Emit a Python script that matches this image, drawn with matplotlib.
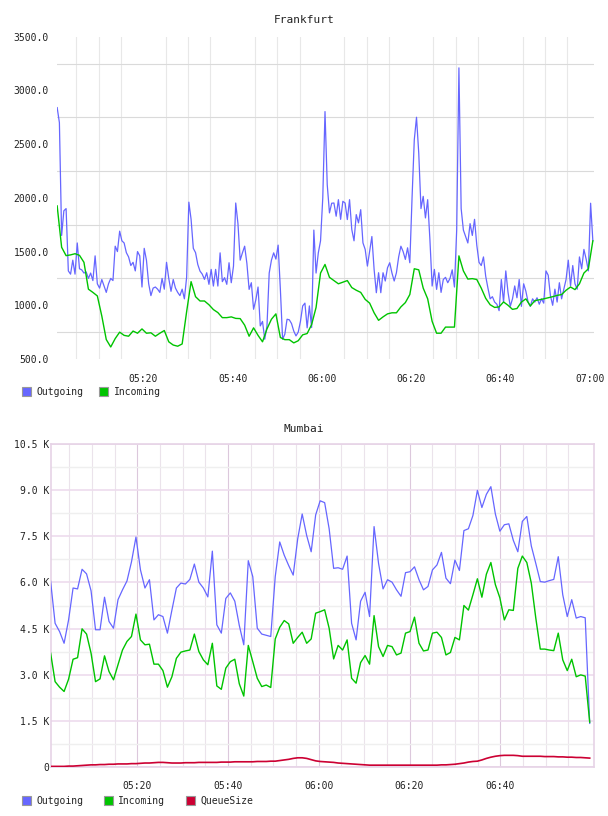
import matplotlib
matplotlib.use("Agg")
import matplotlib.pyplot as plt
import numpy as np
from matplotlib.patches import Patch
from matplotlib.ticker import FixedLocator

plt.rcParams['font.family'] = ['DejaVu Sans Mono']

# minutes after 05:00
tick_minutes = [20, 40, 60, 80, 100, 120]
tick_labels = ['05:20', '05:40', '06:00', '06:20', '06:40', '07:00']

# ---- Frankfurt ----
fra_out_start = 0.7   # minute of first sample, 30 s step
fra_outgoing = [
    2840, 2700, 1650, 1880, 1900, 1320, 1290, 1420, 1290, 1580,
    1340, 1330, 1300, 1310, 1250, 1300, 1230, 1460, 1200, 1160,
    1240, 1180, 1120, 1200, 1250, 1230, 1550, 1500, 1690, 1600,
    1580, 1490, 1450, 1370, 1400, 1320, 1500, 1460, 1170, 1530,
    1420, 1200, 1090, 1160, 1170, 1150, 1120, 1250, 1150, 1400,
    1250, 1130, 1240, 1160, 1120, 1090, 1150, 1060, 1260, 1960,
    1800, 1530, 1490, 1380,
    1318, 1290, 1241, 1303, 1195, 1334, 1179, 1334, 1179, 1488,
    1220, 1257, 1195, 1396, 1210, 1365, 1952, 1760, 1420, 1488,
    1550, 1390, 1148, 1210, 963, 1050, 1170, 808, 850, 684,
    808, 1300, 1420, 1488, 1430, 1560, 1150, 684, 731, 870,
    865, 830, 760, 715, 750, 850, 994, 1020, 790, 994,
    793, 1700, 1300, 1488, 1600, 2000, 2803, 2122, 1860, 1950,
    1952, 1829, 1983, 1800, 1968, 1952, 1798, 1983, 1705, 1600,
    1844, 1767, 1890, 1581, 1520, 1365, 1500, 1640, 1334, 1117,
    1303, 1117, 1303, 1226, 1349, 1396, 1300, 1226, 1303, 1450,
    1550, 1500, 1427, 1535, 1396, 2000, 2540, 2750, 2416, 1900,
    2014, 1813, 1983, 1612, 1179, 1334, 1148, 1303,
    1120, 1240, 1260, 1210, 1250, 1330, 1170, 1700,
    3210, 1900, 1700, 1640, 1580, 1760, 1650, 1800, 1560, 1400,
    1370, 1450, 1270, 1160, 1060, 1080, 1030, 1010, 950, 1240,
    1030, 1320, 1120, 990, 1060, 1180, 1070, 1240, 990, 1200,
    1130, 1030, 990, 1060, 1030, 1070, 1010, 1060, 1020, 1320,
    1280, 1090, 1000, 1150, 1030, 1210, 1060, 1150, 1240, 1420,
    1180, 1370, 1200, 1150, 1450, 1340, 1520, 1430, 1320, 1950, 1600,
]
fra_in_start = 0.7    # 1 min step
fra_incoming = [
    1925, 1540, 1462, 1469, 1480, 1465, 1400, 1150, 1120, 1087,
    900, 681, 612, 690, 750, 720, 712, 760, 740, 780,
    740, 744, 712, 740, 765, 660, 630, 619, 640, 940,
    1220, 1080,
    1040, 1040, 1005, 960, 932, 885, 885, 892, 878, 876,
    815, 712, 790, 720, 660, 780, 870, 920, 700, 680,
    680, 650, 670, 725, 737, 820, 980, 1300, 1380, 1260,
    1230, 1200, 1215, 1230, 1165, 1140, 1120, 1055, 1020, 930,
    860, 892, 920, 930, 930, 985, 1025, 1100, 1340, 1330,
    1160, 1060, 850, 740,
    740, 797, 797, 797, 1460, 1320, 1244, 1248, 1240, 1160,
    1065, 1005, 980, 985, 1031, 1000, 962, 970, 1030, 1060,
    994, 1043, 1051, 1060, 1070, 1080, 1092, 1100, 1140, 1170,
    1146, 1200, 1300, 1340, 1600,
]
fra_yticks = [500, 1000, 1500, 2000, 2500, 3000, 3500]

# ---- Mumbai (values in K, 1 min step) ----
mum_start = 0.9
mum_outgoing = [
    6.04, 4.67, 4.40, 4.02, 4.78, 5.82, 5.79, 6.43, 6.28, 5.73,
    4.46, 4.46, 5.52, 4.73, 4.51, 5.44, 5.76, 6.05, 6.67, 7.48,
    6.41, 5.82, 6.09, 4.78, 4.95, 4.89, 4.35, 5.10, 5.82, 5.98,
    5.95, 6.10, 6.60, 6.01, 5.82, 5.53, 7.02, 4.62, 4.35, 5.48,
    5.66, 5.39, 4.60, 3.97, 6.71, 6.19, 4.51, 4.32, 4.28, 4.24,
    6.19, 7.32, 6.89, 6.55, 6.24, 7.42, 8.23, 7.53, 7.00, 8.20,
    8.66, 8.60, 7.75, 6.46, 6.48, 6.43, 6.86, 4.67, 4.13, 5.39,
    5.68, 4.89, 7.82, 6.62, 5.79, 6.09, 6.01, 5.76, 5.55, 6.32,
    6.35, 6.51, 6.09, 5.76, 5.87, 6.41, 6.57, 6.98, 6.14, 5.96,
    6.73, 6.39, 7.69, 7.75, 8.18, 9.00, 8.44, 8.87, 9.12, 8.23,
    7.67, 7.88, 7.91, 7.37, 7.00, 7.99, 8.15, 7.19, 6.62, 6.03,
    6.01, 6.06, 6.10, 6.84, 5.60, 4.89, 5.44, 4.84, 4.89, 4.85,
    1.41,
]
mum_incoming = [
    3.70, 2.77, 2.59, 2.45, 2.85, 3.50, 3.55, 4.49, 4.32, 3.70,
    2.77, 2.86, 3.61, 3.10, 2.83, 3.32, 3.80, 4.08, 4.24, 4.97,
    4.13, 3.97, 3.99, 3.34, 3.34, 3.13, 2.59, 2.93, 3.53, 3.73,
    3.77, 3.80, 4.32, 3.75, 3.48, 3.32, 4.02, 2.63, 2.52, 3.21,
    3.42, 3.50, 2.70, 2.30, 3.95, 3.42, 2.88, 2.61, 2.66, 2.58,
    4.16, 4.54, 4.76, 4.65, 4.02, 4.21, 4.38, 4.02, 4.16, 5.00,
    5.05, 5.11, 4.51, 3.51, 3.95, 3.80, 4.13, 2.88, 2.72, 3.39,
    3.62, 3.34, 4.92, 3.91, 3.59, 3.95, 3.91, 3.64, 3.70, 4.35,
    4.40, 4.87, 4.02, 3.77, 3.80, 4.35, 4.38, 4.21, 3.64, 3.72,
    4.21, 4.13, 5.25, 5.10, 5.60, 6.12, 5.52, 6.27, 6.65, 5.93,
    5.50, 4.78, 5.11, 5.09, 6.46, 6.86, 6.65, 5.98, 4.84, 3.83,
    3.83, 3.80, 3.78, 4.35, 3.48, 3.13, 3.50, 2.93, 2.99, 2.95,
    1.45,
]
mum_queue = [
    0.01, 0.01, 0.01, 0.01, 0.02, 0.02, 0.03, 0.04, 0.05, 0.06,
    0.06, 0.07, 0.07, 0.08, 0.08, 0.09, 0.09, 0.09, 0.10, 0.10,
    0.11, 0.12, 0.12, 0.13, 0.14, 0.14, 0.13, 0.12, 0.12, 0.12,
    0.13, 0.13, 0.13, 0.14, 0.14, 0.14, 0.14, 0.14, 0.15, 0.15,
    0.15, 0.16, 0.16, 0.16, 0.16, 0.16, 0.17, 0.17, 0.17, 0.18,
    0.18, 0.20, 0.22, 0.24, 0.27, 0.29, 0.29, 0.27, 0.23, 0.19,
    0.17, 0.16, 0.15, 0.14, 0.12, 0.11, 0.10, 0.09, 0.08, 0.07,
    0.06, 0.05, 0.05, 0.05, 0.05, 0.05, 0.05, 0.05, 0.05, 0.05,
    0.05, 0.05, 0.05, 0.05, 0.05, 0.05, 0.05, 0.06, 0.06, 0.07,
    0.08, 0.10, 0.12, 0.15, 0.17, 0.18, 0.22, 0.27, 0.31, 0.34,
    0.36, 0.37, 0.37, 0.37, 0.36, 0.34, 0.34, 0.34, 0.34, 0.34,
    0.33, 0.33, 0.33, 0.32, 0.32, 0.31, 0.31, 0.30, 0.30, 0.29,
    0.28,
]
mum_yticks = [0, 1.5, 3.0, 4.5, 6.0, 7.5, 9.0, 10.5]

C_OUT = '#6666ff'
C_IN = '#00c400'
C_Q = '#cc0033'
TXT = '#222222'

fig = plt.figure(figsize=(6.08, 8.16), dpi=100)

# Frankfurt axes
ax1 = fig.add_axes([57.3 / 608, 1 - 359 / 816, (594 - 57.3) / 608, (359 - 36.7) / 816])
t_out = fra_out_start + 0.5 * np.arange(len(fra_outgoing))
t_in = fra_in_start + np.arange(len(fra_incoming))
ax1.plot(t_out, fra_outgoing, color=C_OUT, lw=0.9, zorder=3)
ax1.plot(t_in, fra_incoming, color=C_IN, lw=1.0, zorder=3)
ax1.set_xlim(0.73, 120.96)
ax1.set_ylim(500, 3500)
ax1.set_xticks(tick_minutes)
ax1.set_xticklabels(tick_labels)
ax1.xaxis.set_minor_locator(FixedLocator(np.arange(5, 121, 5)))
ax1.set_yticks(fra_yticks)
ax1.set_yticklabels(['%.1f' % v for v in fra_yticks])
ax1.yaxis.set_minor_locator(FixedLocator([750, 1250, 1750, 2250, 2750, 3250]))
ax1.grid(False)
ax1.grid(True, which='minor', axis='x', color='#e8e8e8', lw=0.8)
ax1.grid(True, which='minor', axis='y', color='#dadada', lw=0.8)
ax1.tick_params(which='both', length=0, colors=TXT, labelsize=7)
ax1.tick_params(axis='x', pad=11)
ax1.tick_params(axis='y', pad=6)
for s in ax1.spines.values():
    s.set_visible(False)
ax1.set_axisbelow(True)
fig.text(0.5, 1 - 20 / 816, 'Frankfurt', ha='center', va='center', fontsize=8, color=TXT)
h1 = [Patch(facecolor=C_OUT, edgecolor='#999999', lw=0.8, label='Outgoing'),
      Patch(facecolor=C_IN, edgecolor='#999999', lw=0.8, label='Incoming')]
fig.legend(handles=h1, loc='center left', bbox_to_anchor=(18 / 608, 1 - 392 / 816),
           ncol=2, frameon=False, fontsize=7, handlelength=0.95, handleheight=0.95,
           handletextpad=0.55, columnspacing=1.6, borderaxespad=0, labelcolor=TXT)

# Mumbai axes
ax2 = fig.add_axes([50.7 / 608, 1 - 766.7 / 816, (593.7 - 50.7) / 608, (766.7 - 444.3) / 816])
t_m = mum_start + np.arange(len(mum_outgoing)) * 0.99
ax2.plot(t_m, mum_outgoing, color=C_OUT, lw=0.9, zorder=3)
ax2.plot(t_m, mum_incoming, color=C_IN, lw=1.0, zorder=3)
ax2.plot(t_m, mum_queue, color=C_Q, lw=1.2, zorder=3)
ax2.set_xlim(0.92, 120.58)
ax2.set_ylim(0, 10.5)
ax2.set_xticks(tick_minutes[:-1])
ax2.set_xticklabels(tick_labels[:-1])
ax2.xaxis.set_minor_locator(FixedLocator([m for m in range(5, 121, 5) if m % 20]))
ax2.set_yticks(mum_yticks)
ax2.set_yticklabels(['0' if v == 0 else '%.1f K' % v for v in mum_yticks])
ax2.yaxis.set_minor_locator(FixedLocator(np.arange(0.75, 10.5, 1.5)))
ax2.grid(True, which='major', axis='x', color='#dcc8dc', lw=0.8)
ax2.grid(True, which='minor', axis='x', color='#ebe3eb', lw=0.8)
ax2.grid(True, which='major', axis='y', color='#eddced', lw=1.2)
ax2.grid(True, which='minor', axis='y', color='#efefef', lw=1.0)
ax2.tick_params(which='both', length=0, colors=TXT, labelsize=7)
ax2.tick_params(axis='x', pad=10)
ax2.tick_params(axis='y', pad=1)
for s in ax2.spines.values():
    s.set_color('#e6d3e6')
    s.set_linewidth(1.2)
ax2.set_axisbelow(True)
fig.text(0.5, 1 - 429 / 816, 'Mumbai', ha='center', va='center', fontsize=8, color=TXT)
h2 = [Patch(facecolor=C_OUT, edgecolor='#999999', lw=0.8, label='Outgoing'),
      Patch(facecolor=C_IN, edgecolor='#999999', lw=0.8, label='Incoming'),
      Patch(facecolor=C_Q, edgecolor='#999999', lw=0.8, label='QueueSize')]
fig.legend(handles=h2, loc='center left', bbox_to_anchor=(18 / 608, 1 - 800.7 / 816),
           ncol=3, frameon=False, fontsize=7, handlelength=0.95, handleheight=0.95,
           handletextpad=0.55, columnspacing=2.1, borderaxespad=0, labelcolor=TXT)

fig.savefig('out.png', dpi=100)
